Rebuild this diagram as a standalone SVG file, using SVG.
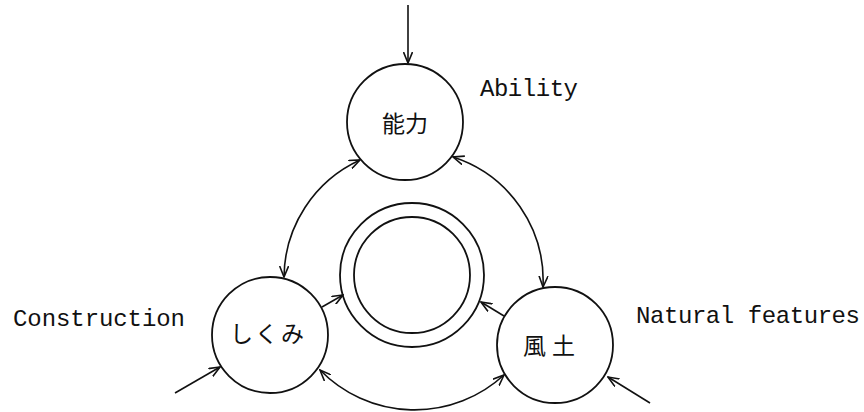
<svg xmlns="http://www.w3.org/2000/svg" width="864" height="412" viewBox="0 0 864 412">
<style>
.node{fill:none;stroke:#111;stroke-width:1.8}
.con{fill:none;stroke:#111;stroke-width:1.6}
.jp{font-family:"Noto Sans CJK JP","Noto Sans CJK SC",sans-serif;font-size:23px;fill:#111;text-anchor:middle}
.en{font-family:"Liberation Mono",monospace;font-size:24px;fill:#111}
</style>
<defs>
<marker id="ah" viewBox="0 0 12 10" refX="11" refY="5" markerWidth="12" markerHeight="10" markerUnits="userSpaceOnUse" orient="auto-start-reverse">
<path d="M0,0.5 L11,5 L0,9.5" fill="none" stroke="#111" stroke-width="1.6"/>
</marker>
</defs>
<rect width="864" height="412" fill="#fff"/>
<g id="connectors">
<line class="con" x1="408" y1="5" x2="408" y2="63" marker-end="url(#ah)"/>
<path class="con" d="M360,160 A130,130 0 0 0 284,277" marker-start="url(#ah)" marker-end="url(#ah)"/>
<path class="con" d="M453,157 A130,130 0 0 1 543,287" marker-start="url(#ah)" marker-end="url(#ah)"/>
<path class="con" d="M320,370 A132,132 0 0 0 504,375" marker-start="url(#ah)" marker-end="url(#ah)"/>
<line class="con" x1="322" y1="307" x2="343" y2="295" marker-end="url(#ah)"/>
<line class="con" x1="504" y1="316" x2="481" y2="302" marker-end="url(#ah)"/>
<line class="con" x1="175" y1="393" x2="220" y2="367" marker-end="url(#ah)"/>
<line class="con" x1="650" y1="403" x2="608" y2="377" marker-end="url(#ah)"/>
</g>
<g id="ability">
<circle class="node" cx="405" cy="122" r="58"/>
<text class="jp" x="405" y="132">能力</text>
</g>
<g id="construction">
<circle class="node" cx="270" cy="335" r="58"/>
<text class="jp" x="268" y="342" letter-spacing="2">しくみ</text>
</g>
<g id="natural">
<circle class="node" cx="555" cy="345" r="58"/>
<text class="jp" x="552" y="354" letter-spacing="6">風土</text>
</g>
<g id="center">
<circle class="node" cx="412" cy="275" r="72"/>
<circle class="node" cx="412" cy="275" r="58"/>
</g>
<g id="labels">
<text class="en" x="480" y="96" textLength="98" lengthAdjust="spacing">Ability</text>
<text class="en" x="13" y="326" textLength="172" lengthAdjust="spacing">Construction</text>
<text class="en" x="636" y="323" textLength="224" lengthAdjust="spacing">Natural features</text>
</g>
</svg>
